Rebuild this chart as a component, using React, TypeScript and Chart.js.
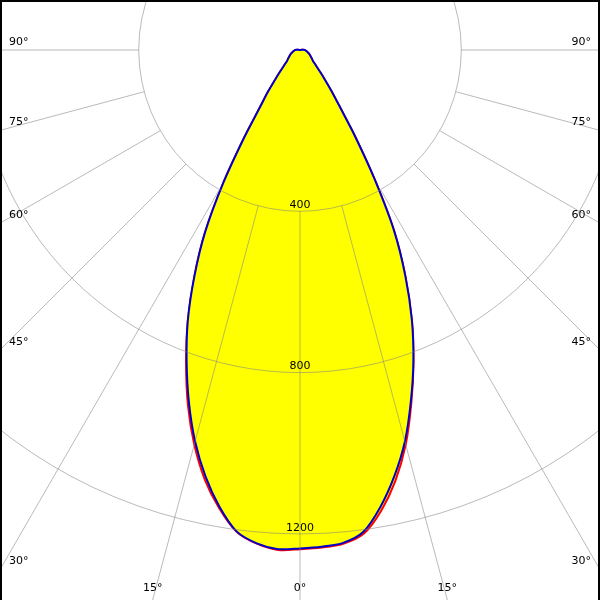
import React, { useEffect, useRef } from "react";
import { Chart, registerables } from "chart.js";

Chart.register(...registerables);

// Gamma angles (degrees from nadir) for each half-plane
const GAMMA = [
  0, 2.5, 5, 7.5, 10, 12.5, 15, 17.5, 20, 22.5, 25, 27.5, 30, 32.5, 35, 37.5, 40, 42.5, 45, 47.5,
  50, 52.5, 55, 57.5, 60, 62.5, 65, 67.5, 70, 72.5, 75, 77.5, 80, 82.5, 85, 87.5, 90, 92.5, 95, 97.5,
  100, 102.5, 105, 107.5, 110, 112.5, 115, 117.5, 120, 122.5, 125, 127.5, 130, 132.5, 135, 137.5,
  140, 142.5, 145, 147.5, 150, 152.5, 155, 157.5, 160, 162.5, 165, 167.5, 170, 172.5, 175, 177.5, 180,
];

// Red curve: C0 (right) and C180 (left), cd
const C0 = [
  1235, 1235, 1229, 1210, 1160, 1094, 1013, 918, 823, 725, 618, 505, 370, 255, 172, 128, 96, 74, 58, 48,
  42, 38, 35, 32, 30, 28, 26, 24, 22, 20, 19, 18, 16, 15, 14, 13, 12, 8, 4, 0,
  0, 0, 0, 0, 0, 0, 0, 0, 0, 0, 0, 0, 0, 0, 0, 0,
  0, 0, 0, 0, 0, 0, 0, 0, 0, 0, 0, 0, 0, 0, 0, 0, 0,
];
const C180 = [
  1238, 1241, 1229, 1205, 1154, 1091, 1013, 924, 826, 727, 620, 510, 380, 258, 172, 130, 96, 74, 58, 48,
  42, 38, 35, 32, 30, 28, 26, 24, 22, 20, 19, 18, 16, 15, 14, 13, 12, 8, 4, 0,
  0, 0, 0, 0, 0, 0, 0, 0, 0, 0, 0, 0, 0, 0, 0, 0,
  0, 0, 0, 0, 0, 0, 0, 0, 0, 0, 0, 0, 0, 0, 0, 0, 0,
];
// Blue curve: C90 (right) and C270 (left), cd
const C90 = [
  1233, 1233, 1227, 1205, 1150, 1082, 1005, 914, 822, 725, 618, 505, 370, 255, 172, 128, 96, 74, 58, 48,
  42, 38, 35, 32, 30, 28, 26, 24, 22, 20, 19, 18, 16, 15, 14, 13, 12, 8, 4, 0,
  0, 0, 0, 0, 0, 0, 0, 0, 0, 0, 0, 0, 0, 0, 0, 0,
  0, 0, 0, 0, 0, 0, 0, 0, 0, 0, 0, 0, 0, 0, 0, 0, 0,
];
const C270 = [
  1236, 1239, 1228, 1204, 1150, 1083, 1005, 916, 822, 727, 620, 510, 380, 258, 172, 130, 96, 74, 58, 48,
  42, 38, 35, 32, 30, 28, 26, 24, 22, 20, 19, 18, 16, 15, 14, 13, 12, 8, 4, 0,
  0, 0, 0, 0, 0, 0, 0, 0, 0, 0, 0, 0, 0, 0, 0, 0,
  0, 0, 0, 0, 0, 0, 0, 0, 0, 0, 0, 0, 0, 0, 0, 0, 0,
];

const RING_TICKS = [400, 800, 1200];
const ANGLE_TICKS = [0, 15, 30, 45, 60, 75, 90];
const SCALE_MAX = 1600;

// layout
const CENTER_X = 300;
const CENTER_Y = 50;
const PX_PER_CD = 161.3 / 400;
const GRID = "rgba(130,130,130,0.55)";
const FONT = '11px "DejaVu Sans", Verdana, sans-serif';

const N = 2 * (GAMMA.length - 1);
const STEP = 360 / N;
// index i runs clockwise from nadir: first the left half (C180 / C270), then the right half (C0 / C90)
const LABELS = Array.from({ length: N }, (_, i) => String(i * STEP));
const pick = (left: number[], right: number[]) =>
  Array.from({ length: N }, (_, i) => (i <= N / 2 ? left[i] : right[N - i]));

const framePlugin = {
  id: "polarFrame",
  afterDraw(chart: any) {
    const r = chart.scales.r;
    const ctx = chart.ctx as CanvasRenderingContext2D;
    const W = chart.width;
    const H = chart.height;
    const cx = r.xCenter;
    const cy = r.yCenter;
    const rIn = r.getDistanceFromCenterForValue(RING_TICKS[0]);
    const rOut = r.getDistanceFromCenterForValue(r.max);
    ctx.save();
    ctx.strokeStyle = GRID;
    ctx.lineWidth = 1;
    ctx.font = FONT;
    ctx.fillStyle = "#000";
    const sides = ["left", "right"];
    sides.forEach((side) => {
      ANGLE_TICKS.forEach((g) => {
        if (side === "right" && g === 0) return;
        const idx = side === "left" ? g / STEP : (N - g / STEP) % N;
        const p0 = r.getPointPosition(idx, rIn);
        const p1 = r.getPointPosition(idx, rOut);
        ctx.beginPath();
        ctx.moveTo(p0.x, p0.y);
        ctx.lineTo(p1.x, p1.y);
        ctx.stroke();
        const len = Math.hypot(p1.x - p0.x, p1.y - p0.y);
        const ux = (p1.x - p0.x) / len;
        const uy = (p1.y - p0.y) / len;
        const text = `${g}°`;
        ctx.textBaseline = "middle";
        let sideHit = false;
        if (Math.abs(ux) > 1e-6) {
          const ex = ux < 0 ? 0 : W;
          const t = (ex - cx) / ux;
          const y = cy + t * uy;
          if (y <= H) {
            sideHit = true;
            ctx.textAlign = ux < 0 ? "left" : "right";
            ctx.fillText(text, ux < 0 ? 9 : W - 9, y - 8);
          }
        }
        if (!sideHit) {
          const t = (H - cy) / uy;
          const x = cx + t * ux;
          ctx.textAlign = "center";
          ctx.fillText(text, x, H - 12);
        }
      });
    });
    // ring values
    ctx.textAlign = "center";
    ctx.textBaseline = "middle";
    RING_TICKS.forEach((v) => {
      const d = r.getDistanceFromCenterForValue(v);
      ctx.fillText(String(v), cx, cy + d - 6);
    });
    // frame
    ctx.fillStyle = "#000";
    ctx.fillRect(0, 0, W, 2);
    ctx.fillRect(0, 0, 2, H);
    ctx.fillRect(W - 2, 0, 2, H);
    ctx.restore();
  },
};

export default function App() {
  const ref = useRef<HTMLCanvasElement | null>(null);
  useEffect(() => {
    if (!ref.current) return;
    const chart = new Chart(ref.current, {
      type: "radar",
      data: {
        labels: LABELS,
        datasets: [
          {
            label: "C90 - C270",
            data: pick(C270, C90),
            borderColor: "#0000c8",
            backgroundColor: "#ffff00",
            borderWidth: 2,
            fill: true,
            pointRadius: 0,
            tension: 0.3,
          },
          {
            label: "C0 - C180",
            data: pick(C180, C0),
            borderColor: "#ff0000",
            backgroundColor: "#ffff00",
            borderWidth: 2,
            fill: true,
            pointRadius: 0,
            tension: 0.3,
          },
        ],
      },
      options: {
        animation: false,
        responsive: false,
        maintainAspectRatio: false,
        layout: { padding: 0, autoPadding: false },
        plugins: { legend: { display: false }, tooltip: { enabled: false } },
        elements: { line: { borderJoinStyle: "round" } },
        scales: {
          r: {
            min: 0,
            max: SCALE_MAX,
            startAngle: 180,
            ticks: { display: false, stepSize: 400 },
            pointLabels: { display: false },
            angleLines: { display: false },
            grid: { circular: true, color: GRID, lineWidth: 1, z: 1 } as any,
            afterFit: (scale: any) => {
              scale.xCenter = CENTER_X;
              scale.yCenter = CENTER_Y;
              scale.drawingArea = SCALE_MAX * PX_PER_CD;
            },
          } as any,
        },
      },
      plugins: [framePlugin],
    } as any);
    return () => chart.destroy();
  }, []);
  return (
    <div style={{ position: "fixed", left: 0, top: 0, width: 600, height: 600, background: "#fff", overflow: "hidden" }}>
      <canvas ref={ref} width={600} height={600} style={{ display: "block", width: 600, height: 600 }} />
    </div>
  );
}
